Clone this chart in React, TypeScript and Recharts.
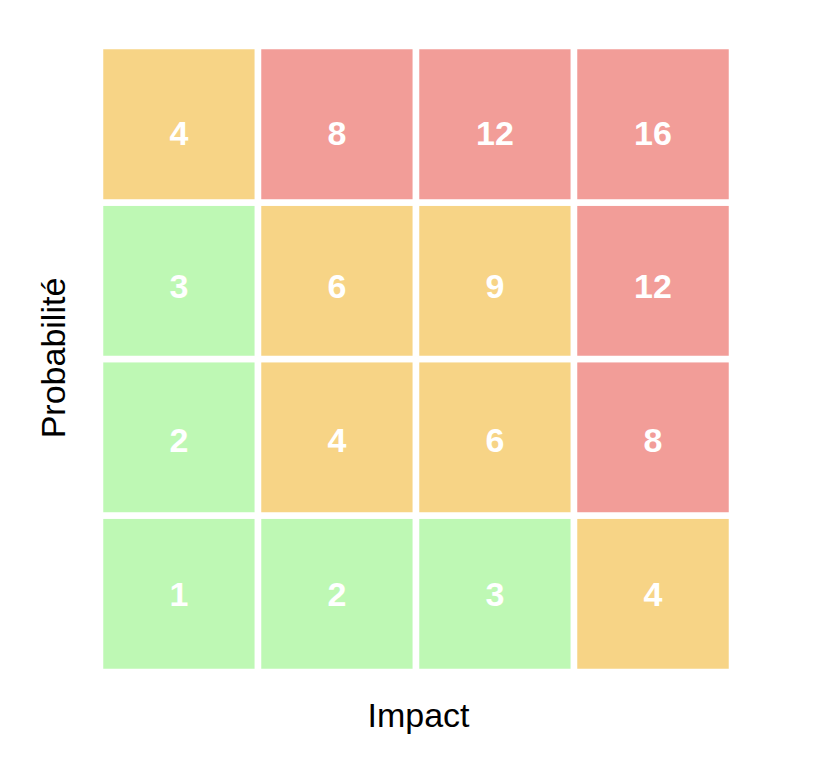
import { BarChart, Bar, XAxis, YAxis, Cell, LabelList } from 'recharts';

const impacts = ['1', '2', '3', '4'];
// scores per probability row (bottom to top), one value per impact column
const scoresP1 = [1, 2, 3, 4];
const scoresP2 = [2, 4, 6, 8];
const scoresP3 = [3, 6, 9, 12];
const scoresP4 = [4, 8, 12, 16];
const rows = [scoresP1, scoresP2, scoresP3, scoresP4];

// risk level per cell: 0 = low, 1 = medium, 2 = high
const levelsP1 = [0, 0, 0, 1];
const levelsP2 = [0, 1, 1, 2];
const levelsP3 = [0, 1, 1, 2];
const levelsP4 = [1, 2, 2, 2];
const levels = [levelsP1, levelsP2, levelsP3, levelsP4];

const LEVEL_COLORS = ['#bef8b4', '#f7d486', '#f29d98'];

const data = impacts.map((impact, i) => {
  const row: Record<string, string | number> = { impact };
  rows.forEach((r, p) => {
    row[`p${p + 1}`] = 1;
    row[`s${p + 1}`] = r[i];
  });
  return row;
});

const W = 813;
const H = 750;
const FONT = '"Helvetica Neue", Helvetica, Arial, "Liberation Sans", sans-serif';

function makeLabel(rowIndex: number) {
  // labels sit slightly lower in the upper rows
  const dy = rowIndex * 2.8;
  return (props: any) => {
    const { x, y, width, height, value } = props;
    return (
      <text
        x={x + width / 2}
        y={y + height / 2 + dy}
        textAnchor="middle"
        dominantBaseline="central"
        fontSize={34}
        fontWeight={700}
        fontFamily={FONT}
        fill="#ffffff"
      >
        {value}
      </text>
    );
  };
}

export default function App() {
  return (
    <div style={{ position: 'relative', width: W, height: H }}>
      <BarChart
        width={W}
        height={H}
        data={data}
        margin={{ top: 38, right: 89, bottom: 86, left: 92 }}
        barCategoryGap={0}
      >
        <XAxis dataKey="impact" type="category" hide />
        <YAxis type="number" domain={[0, 4]} hide />
        {rows.map((r, p) => (
          <Bar
            key={p}
            dataKey={`p${p + 1}`}
            stackId="grid"
            stroke="#ffffff"
            strokeWidth={6.5}
            isAnimationActive={false}
          >
            {r.map((_score, i) => (
              <Cell key={i} fill={LEVEL_COLORS[levels[p][i]]} />
            ))}
            <LabelList dataKey={`s${p + 1}`} content={makeLabel(p)} />
          </Bar>
        ))}
      </BarChart>
      <svg
        width={W}
        height={H}
        style={{ position: 'absolute', left: 0, top: 0, pointerEvents: 'none' }}
      >
        <text x={410.5} y={719} textAnchor="middle" fontSize={34} fontFamily={FONT} fill="#000">
          Impact
        </text>
        <text
          x={57}
          y={350}
          textAnchor="middle"
          fontSize={34}
          fontFamily={FONT}
          fill="#000"
          transform="rotate(-90, 57, 350)"
        >
          Probabilité
        </text>
      </svg>
    </div>
  );
}
